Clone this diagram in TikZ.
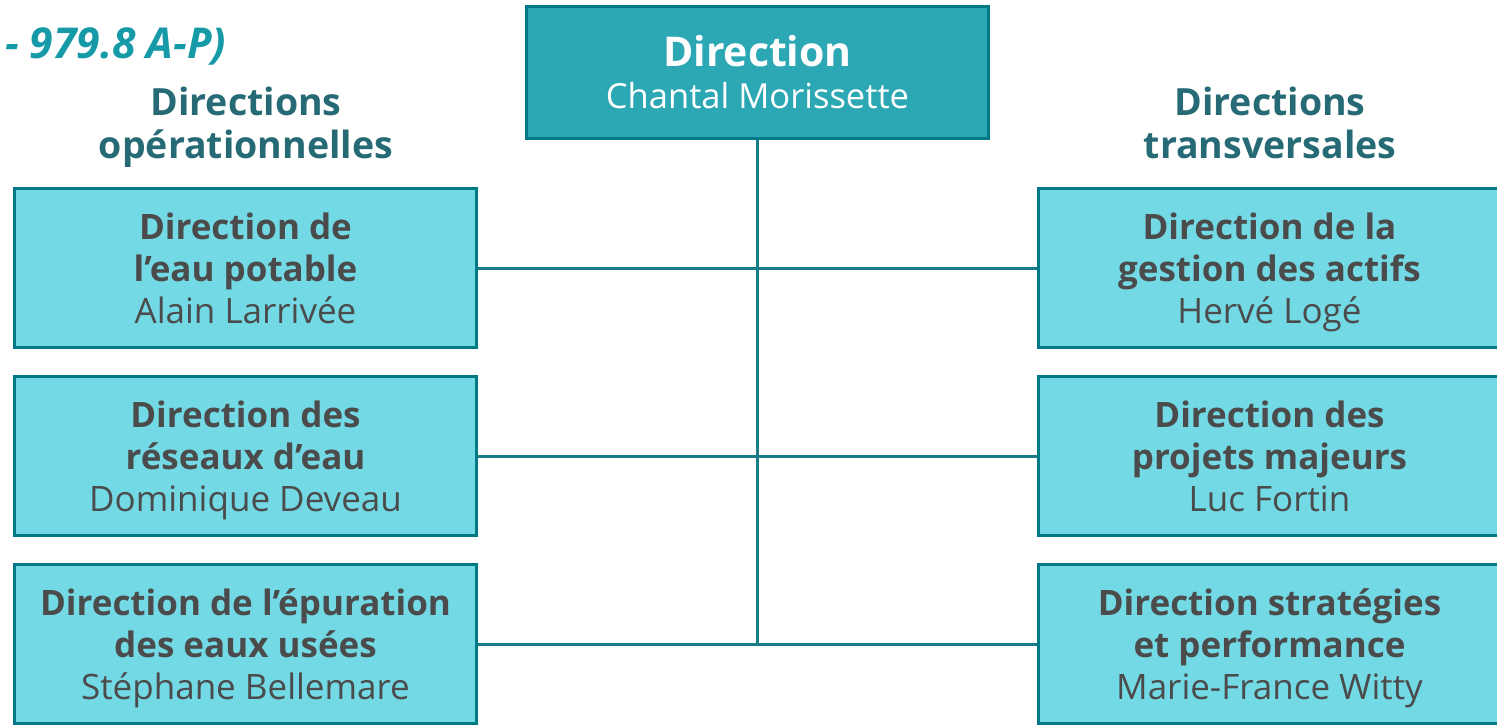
\documentclass[tikz,border=0pt]{standalone}
\usepackage{fontspec}
\setmainfont{Open Sans}
\usetikzlibrary{backgrounds}
\definecolor{topfill}{HTML}{2CA8B5}
\definecolor{boxfill}{HTML}{72D9E5}
\definecolor{boxline}{HTML}{007A84}
\definecolor{txtgray}{HTML}{4B4B4B}
\definecolor{headcol}{HTML}{256A74}
\definecolor{itcol}{HTML}{179AA7}
\definecolor{linkcol}{HTML}{187C84}
\begin{document}
\begin{tikzpicture}[x=1pt,y=-1pt,
  unitbox/.style={draw=boxline, line width=3.8pt, fill=boxfill, minimum width=462pt,
    minimum height=159pt, inner sep=0pt, align=center, text=txtgray, text depth=0pt,
    font=\fontsize{35}{42}\selectfont},
  topbox/.style={draw=boxline, line width=3.8pt, fill=topfill, minimum width=462pt,
    minimum height=132pt, inner sep=0pt, align=center, text=white,
    font=\fontsize{33}{42}\selectfont},
  heading/.style={align=center, text=headcol, inner sep=0pt, text depth=0pt,
    font=\bfseries\fontsize{37.5}{43}\selectfont},
  link/.style={draw=linkcol, line width=3pt}
]
\useasboundingbox (0,0) rectangle (1497,725);
\node[anchor=west, text=itcol, inner sep=0pt, font=\bfseries\itshape\fontsize{42.5}{48}\selectfont] (code) at (5,46) {- 979.8 A-P)};
\node[topbox] (top) at (757.5,72.5) {{\bfseries\fontsize{41}{42}\selectfont Direction}\\ {\fontsize{34.5}{42}\selectfont Chantal Morissette}};
\node[heading] (hl) at (246,122.5) {Directions\\ opérationnelles};
\node[heading] (hr) at (1270,122.5) {Directions\\ transversales};

\node[unitbox] (L1) at (245.5,268) {\bfseries Direction de\\ \bfseries l’eau potable\\ \mdseries Alain Larrivée};
\node[unitbox] (L2) at (245.5,456) {\bfseries Direction des\\ \bfseries réseaux d’eau\\ \mdseries Dominique Deveau};
\node[unitbox] (L3) at (245.5,644) {\bfseries Direction de l’épuration\\ \bfseries des eaux usées\\ \mdseries Stéphane Bellemare};

\node[unitbox] (R1) at (1269.5,268) {\bfseries Direction de la\\ \bfseries gestion des actifs\\ \mdseries Hervé Logé};
\node[unitbox] (R2) at (1269.5,456) {\bfseries Direction des\\ \bfseries projets majeurs\\ \mdseries Luc Fortin};
\node[unitbox] (R3) at (1269.5,644) {\bfseries Direction stratégies\\ \bfseries et performance\\ \mdseries Marie-France Witty};

\coordinate (junc) at (top.south |- L3.east);
\begin{scope}[on background layer]
\draw[link] (top.south) -- (junc);
\draw[link] (L1.east) -- (R1.west);
\draw[link] (L2.east) -- (R2.west);
\draw[link] (L3.east) -- (R3.west);
\end{scope}
\end{tikzpicture}
\end{document}
